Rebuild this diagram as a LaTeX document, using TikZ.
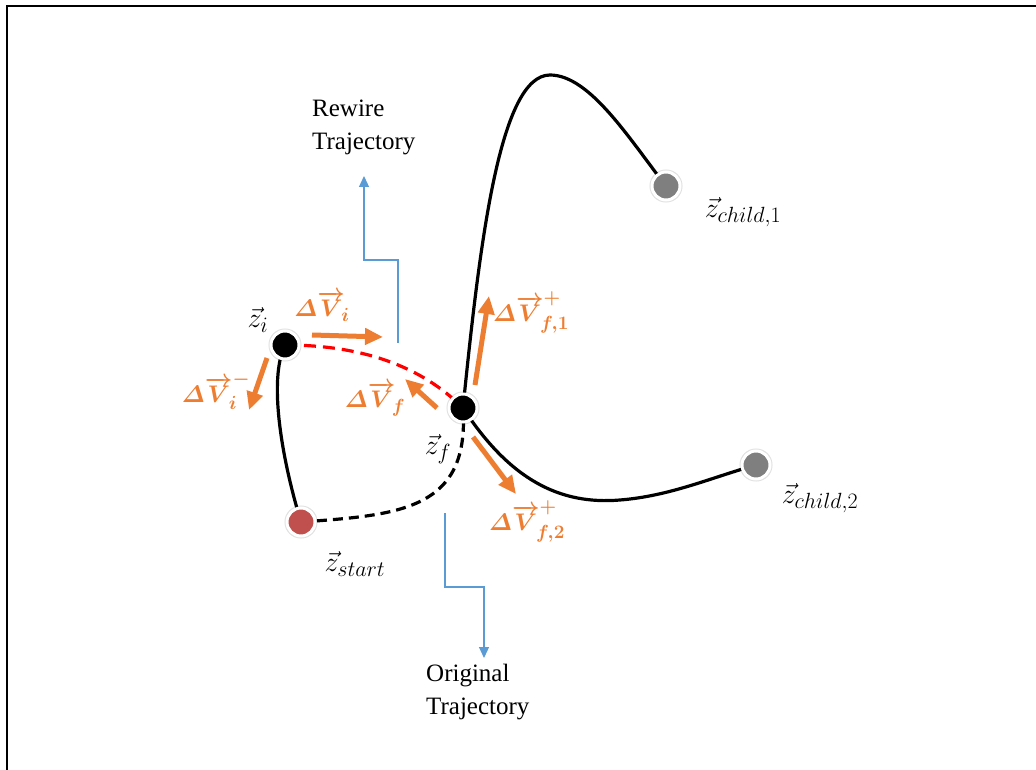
\RequirePackage{fix-cm}
\documentclass[tikz,border=0pt]{standalone}
\usepackage{amsmath}
\usepackage{fontspec}
\setmainfont{Liberation Serif}
\usepackage{bm}
\usetikzlibrary{arrows.meta,shadows}

% larger script sizes for the big labels
\DeclareMathSizes{28}{28}{22}{17}
\DeclareMathSizes{24}{24}{19}{15}

\definecolor{vecorange}{HTML}{ED7D31}
\definecolor{guideblue}{HTML}{5B9BD5}
\definecolor{startred}{HTML}{C0504D}
\definecolor{childgray}{HTML}{7F7F7F}

\newcommand{\dV}{\bm{\varDelta}{\overrightarrow{\bm{V}}}}

\tikzset{
  state/.style={circle, minimum size=28pt, inner sep=0pt, draw=white, line width=3pt,
    drop shadow={shadow xshift=0pt, shadow yshift=0pt, shadow scale=1.18, fill=black, opacity=0.12}},
  traj/.style={line width=3.2pt, line cap=round},
  oldtraj/.style={line width=3.2pt, dash pattern=on 10pt off 6pt},
  rewire/.style={line width=3.2pt, color=red, dash pattern=on 12pt off 7pt},
  vec/.style={line width=5pt, color=vecorange, -{Triangle[length=18pt,width=16pt]}},
  guide/.style={line width=1.2pt, color=guideblue, -{Triangle[length=11pt,width=10pt]}},
  vlabel/.style={text=vecorange, inner sep=0pt, font=\fontsize{24}{24}\selectfont\boldmath},
  zlabel/.style={inner sep=0pt, font=\fontsize{28}{28}\selectfont},
  note/.style={align=left, anchor=north west, inner sep=0pt, font=\fontsize{25}{33}\selectfont}
}

\begin{document}
\begin{tikzpicture}[x=1pt, y=-1pt]
\useasboundingbox (0,0) rectangle (1036,770);

% page frame (top and left edges)
\draw[line width=2.5pt] (7,770) -- (7,6) -- (1036,6);

% state positions
\coordinate (pi) at (285,345);
\coordinate (pf) at (463,408);
\coordinate (ps) at (301,522);
\coordinate (pc1) at (666,186);
\coordinate (pc2) at (756,465);

% trajectories
\draw[traj] (pi) .. controls (268,380) and (282,460) .. (ps);
\draw[oldtraj] (ps) .. controls (400,515) and (470,510) .. (pf);
\draw[rewire] (pi) .. controls (360,345) and (420,365) .. (pf);
\draw[traj] (pf) .. controls (480,240) and (500,75) .. (550,75)
                 .. controls (590,75) and (630,140) .. (pc1);
\draw[traj] (pf) .. controls (510,480) and (560,505) .. (620,500)
                 .. controls (670,496) and (710,478) .. (pc2);

% states
\node[state, fill=black] (zi) at (pi) {};
\node[state, fill=black] (zf) at (pf) {};
\node[state, fill=startred] (zs) at (ps) {};
\node[state, fill=childgray] (zc1) at (pc1) {};
\node[state, fill=childgray] (zc2) at (pc2) {};

% velocity changes
\coordinate (vi0) at (312,335);  \coordinate (vi1) at (383,337);
\coordinate (vim0) at (267,358); \coordinate (vim1) at (249,410);
\coordinate (vf0) at (437,408);  \coordinate (vf1) at (405,379);
\coordinate (vp10) at (475,385); \coordinate (vp11) at (489,296);
\coordinate (vp20) at (473,437); \coordinate (vp21) at (516,494);
\draw[vec] (vi0) -- (vi1);
\draw[vec] (vim0) -- (vim1);
\draw[vec] (vf0) -- (vf1);
\draw[vec] (vp10) -- (vp11);
\draw[vec] (vp20) -- (vp21);

% labels
\node[zlabel] (lzi) at (258,320) {$\vec{z}_i$};
\node[zlabel] (lzf) at (438,449) {$\vec{z}_f$};
\node[zlabel] (lzs) at (355,564) {$\vec{z}_{start}$};
\node[zlabel] (lzc1) at (743,212) {$\vec{z}_{child,1}$};
\node[zlabel] (lzc2) at (820,498) {$\vec{z}_{child,2}$};
\node[vlabel] (lvi) at (322,306) {$\dV_{\!i}$};
\node[vlabel] (lvim) at (216,391) {$\dV^{-}_{\!i}$};
\node[vlabel] (lvf) at (375,399) {$\dV_{\!f}$};
\node[vlabel] (lvp1) at (531,312) {$\dV^{+}_{\!f,1}$};
\node[vlabel] (lvp2) at (527,521) {$\dV^{+}_{\!f,2}$};

% call-outs
\node[note] (trew) at (312,100) {Rewire\\Trajectory};
\node[note] (torig) at (426,664) {Original\\Trajectory};
\coordinate (g1a) at (398,343); \coordinate (g1b) at (364,260); \coordinate (g1c) at (364,176);
\draw[guide] (g1a) |- (g1b) -- (g1c);
\coordinate (g2a) at (445,513); \coordinate (g2b) at (484,587); \coordinate (g2c) at (484,658);
\draw[guide] (g2a) |- (g2b) -- (g2c);
\end{tikzpicture}
\end{document}
